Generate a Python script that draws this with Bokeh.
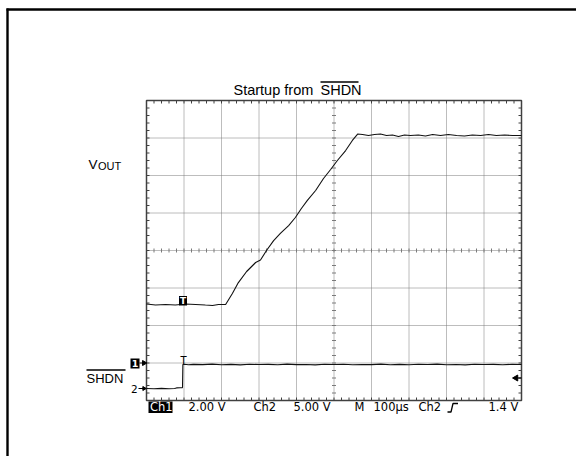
import math
from bokeh.plotting import figure
from bokeh.models import Range1d, Label
from bokeh.core.properties import value
from bokeh.embed import file_html
from bokeh.resources import INLINE

# ---------------- data ----------------
vout_time_us = [-100, -76, -49, -23, 4, 31, 57, 76, 92, 111,
                129, 145, 167, 191, 204, 220, 239, 257, 279, 297,
                313, 329, 351, 372, 391, 409, 431, 449, 463,
                476, 492, 508, 524, 540, 556, 572, 588, 604, 625,
                644, 663, 684, 705, 727, 748, 769, 791, 812, 833,
                855, 876, 900]
vout_v = [3.15, 3.09, 3.12, 3.09, 3.15, 3.12, 3.09, 3.07, 3.12, 3.12,
          3.71, 4.29, 4.88, 5.36, 5.49, 6.00, 6.53, 6.91, 7.33, 7.76,
          8.24, 8.67, 9.20, 9.84, 10.32, 10.80, 11.33, 11.87, 12.21,
          12.19, 12.13, 12.19, 12.21, 12.13, 12.16, 12.08, 12.16, 12.13, 12.16,
          12.11, 12.19, 12.13, 12.19, 12.13, 12.11, 12.16, 12.13, 12.19, 12.13,
          12.16, 12.13, 12.13]

shdn_time_us = [-100, -80, -60, -40, -25, -20, -10, -4, -3, 0,
                12, 25, 50, 75, 100, 125, 150, 175, 200, 225,
                250, 275, 300, 325, 350, 375, 400, 425, 450, 475,
                500, 525, 550, 575, 600, 625, 650, 675, 700, 725,
                750, 775, 800, 825, 850, 875, 900]
shdn_v = [0.0, -0.04, 0.02, -0.03, 0.0, 0.08, 0.10, 0.12, 3.20, 3.24,
          3.16, 3.22, 3.18, 3.25, 3.17, 3.22, 3.15, 3.24, 3.19, 3.22,
          3.16, 3.25, 3.18, 3.21, 3.15, 3.23, 3.19, 3.24, 3.16, 3.21,
          3.18, 3.25, 3.17, 3.22, 3.16, 3.23, 3.19, 3.25, 3.17, 3.21,
          3.15, 3.24, 3.19, 3.22, 3.17, 3.23, 3.20]

us_per_div = 100
ch1_volts_per_div = 2.0
ch2_volts_per_div = 5.0
trigger_level_v = 1.4
trigger_time_us = 0

title_text = "Startup from "
title_bar_text = "SHDN"
vout_label_main = "V"
vout_label_sub = "OUT"
shdn_label = "SHDN"
status_ch1 = "Ch1"
status_ch1_scale = "2.00 V"
status_ch2 = "Ch2"
status_ch2_scale = "5.00 V"
status_m = "M"
status_timebase = "100µs"
status_trig_src = "Ch2"
status_trig_level = "1.4 V"

# ---------------- layout ----------------
W, H = 576, 456
DIV = 37.5
SC_L, SC_B = 146.0, 400.0
NX, NY = 10, 8
T_LEFT = -100
T_RIGHT = T_LEFT + NX * us_per_div
CH1_GND = 1.0
CH2_GND = 0.32
BASE_FIX = 0.4   # baseline correction (fraction of font size)


def X(px):
    return T_LEFT + (px - SC_L) / DIV * us_per_div


def Y(py):
    return (SC_B - py) / DIV


def V1(py):
    return (Y(py) - CH1_GND) * ch1_volts_per_div


def V2(py):
    return (Y(py) - CH2_GND) * ch2_volts_per_div


p = figure(width=W, height=H, title=None,
           x_range=Range1d(X(0), X(W)),
           y_range=Range1d(Y(H), Y(0)),
           output_backend="svg", toolbar_location=None,
           x_axis_location=None, y_axis_location=None,
           min_border=0, background_fill_color="white",
           border_fill_color="white", outline_line_color=None)
p.xgrid.visible = False
p.ygrid.visible = False
p.extra_y_ranges = {
    "ch1": Range1d(V1(H), V1(0)),
    "ch2": Range1d(V2(H), V2(0)),
}

BLACK = "#000000"
GRID = "#7a7a7a"
FRAME = "#404040"
TRACE = "#111111"


def text(px, py, txt, size, font="Liberation Sans", align="left",
         color=BLACK, style="normal"):
    p.add_layout(Label(x=X(px), y=Y(py - BASE_FIX * size), text=txt,
                       text_align=align, text_baseline="alphabetic",
                       text_font=font, text_font_size=f"{size}px",
                       text_font_style=style, text_color=color))


# outer border (top and left edges visible in the reference)
p.segment(x0=[X(6), X(7)], y0=[Y(9), Y(8)],
          x1=[X(W), X(7)], y1=[Y(9), Y(H)],
          line_color=BLACK, line_width=2.4)

# dotted graticule
gx = [T_LEFT + k * us_per_div for k in range(1, NX) if k != NX // 2]
p.segment(x0=gx, y0=[0] * len(gx), x1=gx, y1=[NY] * len(gx),
          line_color=GRID, line_width=1, line_dash=value("1 6.5"))
gy = [k for k in range(1, NY) if k != NY // 2]
p.segment(x0=[T_LEFT] * len(gy), y0=gy, x1=[T_RIGHT] * len(gy), y1=gy,
          line_color=GRID, line_width=1, line_dash=value("1 6.5"))

# centre cross with fine ticks
xc = T_LEFT + NX // 2 * us_per_div
yc = NY // 2
p.segment(x0=[xc, T_LEFT], y0=[0, yc], x1=[xc, T_RIGHT], y1=[NY, yc],
          line_color=GRID, line_width=1, line_dash=value("1 2.75"))
sub = us_per_div / 5
tick_x = [T_LEFT + j * sub for j in range(1, NX * 5)]
tick_y = [j / 5 for j in range(1, NY * 5)]
half_px_y = 2 / DIV
half_px_x = 2 / DIV * us_per_div
p.segment(x0=tick_x, y0=[yc - half_px_y] * len(tick_x),
          x1=tick_x, y1=[yc + half_px_y] * len(tick_x),
          line_color=GRID, line_width=1)
p.segment(x0=[xc - half_px_x] * len(tick_y), y0=tick_y,
          x1=[xc + half_px_x] * len(tick_y), y1=tick_y,
          line_color=GRID, line_width=1)

# border ticks (inward)
in_y = 3 / DIV
in_x = 3 / DIV * us_per_div
p.segment(x0=tick_x, y0=[0] * len(tick_x), x1=tick_x, y1=[in_y] * len(tick_x),
          line_color=FRAME, line_width=1)
p.segment(x0=tick_x, y0=[NY] * len(tick_x), x1=tick_x, y1=[NY - in_y] * len(tick_x),
          line_color=FRAME, line_width=1)
p.segment(x0=[T_LEFT] * len(tick_y), y0=tick_y, x1=[T_LEFT + in_x] * len(tick_y), y1=tick_y,
          line_color=FRAME, line_width=1)
p.segment(x0=[T_RIGHT] * len(tick_y), y0=tick_y, x1=[T_RIGHT - in_x] * len(tick_y), y1=tick_y,
          line_color=FRAME, line_width=1)

# scope frame
p.quad(left=[T_LEFT], right=[T_RIGHT], bottom=[0], top=[NY],
       fill_color=None, line_color=FRAME, line_width=1.5)

# traces
p.line(vout_time_us, vout_v, y_range_name="ch1", line_color=TRACE, line_width=1.1)
p.line(shdn_time_us, shdn_v, y_range_name="ch2", line_color=TRACE, line_width=1.1)

# trigger-position markers
p.quad(left=[X(178.5)], right=[X(186.5)], bottom=[Y(305)], top=[Y(295.5)],
       fill_color=BLACK, line_color=None)
text(182.5, 303.8, "T", 9, font="DejaVu Sans", align="center", color="white", style="bold")
text(183, 363.5, "T", 10, font="DejaVu Sans", align="center")

# ground markers
p.quad(left=[X(130)], right=[X(139)], bottom=[Y(368)], top=[Y(358)],
       fill_color=BLACK, line_color=None)
text(134.5, 366.8, "1", 9.5, font="DejaVu Sans", align="center", color="white", style="bold")
p.segment(x0=[X(139)], y0=[0], x1=[X(145)], y1=[0], y_range_name="ch1",
          line_color=BLACK, line_width=1.2)
p.scatter(x=[X(143.5)], y=[0], y_range_name="ch1", marker="triangle", size=5,
          angle=-math.pi / 2, fill_color=BLACK, line_color=BLACK)
text(130.5, 392.5, "2", 10.5, font="DejaVu Sans")
p.segment(x0=[X(138)], y0=[0], x1=[X(145)], y1=[0], y_range_name="ch2",
          line_color=BLACK, line_width=1)
p.scatter(x=[X(143.5)], y=[0], y_range_name="ch2", marker="triangle", size=4,
          angle=-math.pi / 2, fill_color=BLACK, line_color=BLACK)

# trigger level marker on right edge
p.segment(x0=[X(515)], y0=[trigger_level_v], x1=[X(521)], y1=[trigger_level_v],
          y_range_name="ch2", line_color=BLACK, line_width=1.2)
p.scatter(x=[X(515.5)], y=[trigger_level_v], y_range_name="ch2", marker="triangle",
          size=6, angle=math.pi / 2, fill_color=BLACK, line_color=BLACK)

# title
text(233, 95, title_text, 14.5)
text(320, 95, title_bar_text, 14.5)
p.segment(x0=[X(320)], y0=[Y(81.5)], x1=[X(358)], y1=[Y(81.5)],
          line_color=BLACK, line_width=1.3)

# channel labels
text(88, 169.5, vout_label_main, 13.5)
text(97.5, 169.5, vout_label_sub, 11)
text(86, 383, shdn_label, 13)
p.segment(x0=[X(86)], y0=[Y(369.5)], x1=[X(125)], y1=[Y(369.5)],
          line_color=BLACK, line_width=1.3)

# status line
SBL = 411.5
p.quad(left=[X(148)], right=[X(172)], bottom=[Y(412.5)], top=[Y(401)],
       fill_color=BLACK, line_color=None)
for px, txt, col in [(149.5, status_ch1, "white"), (188, status_ch1_scale, BLACK),
                     (253, status_ch2, BLACK), (293, status_ch2_scale, BLACK),
                     (354, status_m, BLACK), (373, status_timebase, BLACK),
                     (418, status_trig_src, BLACK), (488, status_trig_level, BLACK)]:
    text(px, SBL, txt, 11.5, font="DejaVu Sans", color=col)
p.line(x=[X(447), X(450.5), X(452.5), X(457.5)],
       y=[Y(411.5), Y(411.5), Y(403), Y(403)],
       line_color=BLACK, line_width=1.3)

with open("out.html", "w", encoding="utf-8") as f:
    f.write(file_html(p, INLINE))
